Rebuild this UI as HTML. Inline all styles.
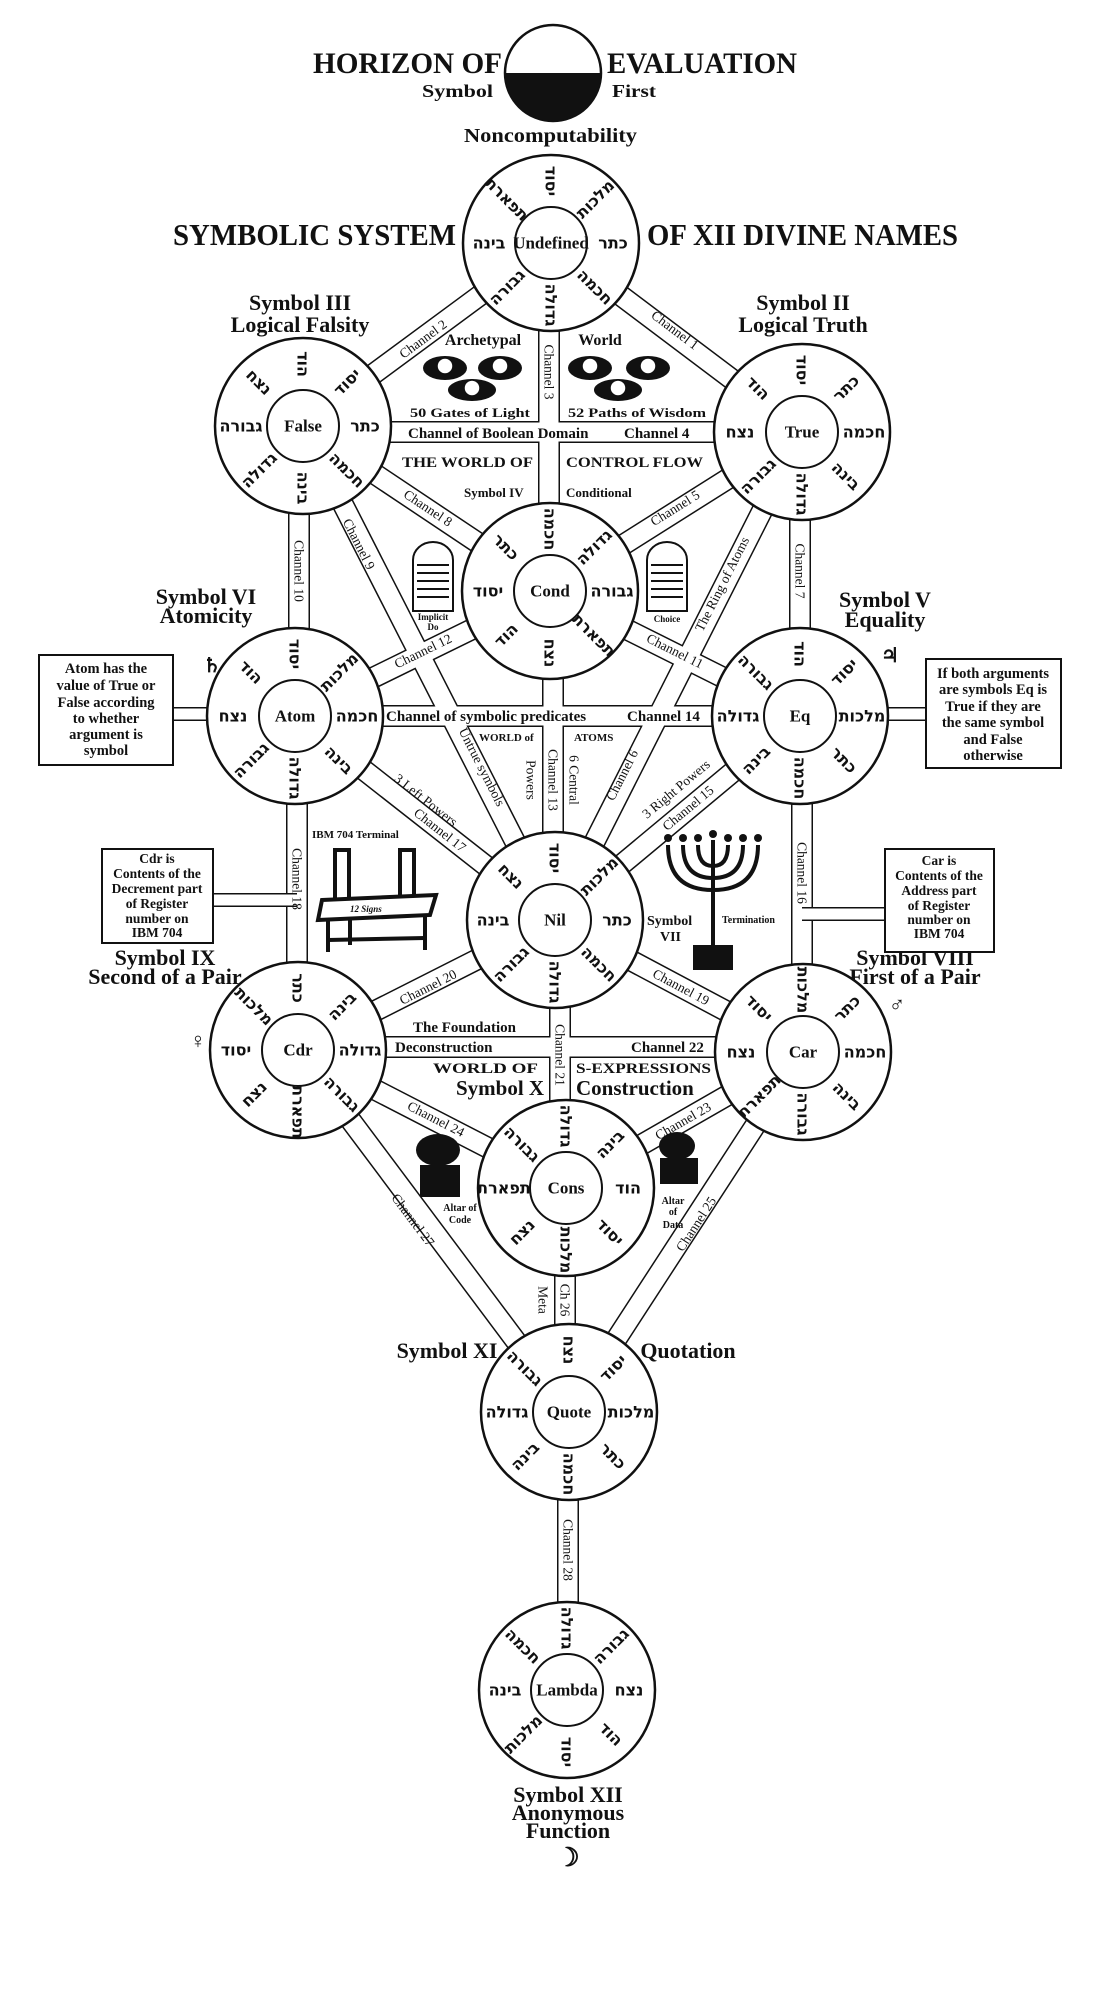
<!DOCTYPE html>
<html><head><meta charset="utf-8"><style>
html,body{margin:0;padding:0;background:#fff;}
svg{display:block;}
text{font-family:"Liberation Serif",serif;font-weight:bold;fill:#111;}
.h{font-family:"DejaVu Sans",sans-serif;font-size:16px;font-weight:bold;dominant-baseline:central;text-anchor:middle;}
.c{font-size:13.5px;text-anchor:middle;dominant-baseline:central;font-weight:normal;}
.b{font-size:14.5px;text-anchor:middle;}
.s{font-size:13.5px;text-anchor:middle;}
.l{font-size:22px;text-anchor:middle;}
.n{font-size:17px;text-anchor:middle;dominant-baseline:central;}
</style></head><body>
<svg width="1102" height="1992" viewBox="0 0 1102 1992" xmlns="http://www.w3.org/2000/svg">
<rect width="1102" height="1992" fill="#fff"/>
<defs>
<g id="bands" fill="none">
<line x1="551" y1="243" x2="802" y2="432"/>
<line x1="551" y1="243" x2="303" y2="426"/>
<line x1="549" y1="243" x2="549" y2="591"/>
<line x1="303" y1="432" x2="802" y2="432"/>
<line x1="802" y1="432" x2="550" y2="591"/>
<line x1="800" y1="432" x2="800" y2="716"/>
<line x1="303" y1="426" x2="550" y2="591"/>
<line x1="303" y1="426" x2="555" y2="920"/>
<line x1="802" y1="432" x2="555" y2="920"/>
<line x1="299" y1="426" x2="299" y2="716"/>
<line x1="550" y1="591" x2="800" y2="716"/>
<line x1="550" y1="591" x2="295" y2="716"/>
<line x1="553" y1="591" x2="553" y2="920"/>
<line x1="295" y1="716" x2="800" y2="716"/>
<line x1="800" y1="716" x2="555" y2="920"/>
<line x1="802" y1="716" x2="802" y2="1052"/>
<line x1="295" y1="716" x2="555" y2="920"/>
<line x1="297" y1="716" x2="297" y2="1050"/>
<line x1="555" y1="920" x2="803" y2="1052"/>
<line x1="555" y1="920" x2="298" y2="1050"/>
<line x1="560" y1="920" x2="560" y2="1188"/>
<line x1="298" y1="1047" x2="803" y2="1047"/>
<line x1="803" y1="1052" x2="566" y2="1188"/>
<line x1="298" y1="1050" x2="566" y2="1188"/>
<line x1="803" y1="1052" x2="569" y2="1412"/>
<line x1="298" y1="1050" x2="569" y2="1412"/>
<line x1="565" y1="1188" x2="565" y2="1412"/>
<line x1="568" y1="1412" x2="568" y2="1690"/>
</g>
<g id="conn" fill="none">
<line x1="173" y1="714" x2="295" y2="714"/>
<line x1="213" y1="900" x2="297" y2="900"/>
<line x1="800" y1="714" x2="926" y2="714"/>
<line x1="802" y1="914" x2="885" y2="914"/>
</g>
</defs>
<use href="#bands" stroke="#111" stroke-width="22"/>
<use href="#bands" stroke="#fff" stroke-width="19"/>
<use href="#conn" stroke="#111" stroke-width="14"/>
<use href="#conn" stroke="#fff" stroke-width="11"/>

<circle cx="553" cy="73" r="48" fill="#fff" stroke="#111" stroke-width="2.5"/>
<path d="M505,73 A48,48 0 0 0 601,73 Z" fill="#111"/>
<text x="313" y="73" font-size="30" textLength="189" lengthAdjust="spacingAndGlyphs">HORIZON OF</text>
<text x="607" y="73" font-size="30" textLength="190" lengthAdjust="spacingAndGlyphs">EVALUATION</text>
<text x="422" y="97" font-size="18" textLength="71" lengthAdjust="spacingAndGlyphs">Symbol</text>
<text x="612" y="97" font-size="18" textLength="44" lengthAdjust="spacingAndGlyphs">First</text>
<text x="464" y="142" font-size="20" textLength="173" lengthAdjust="spacingAndGlyphs">Noncomputability</text>
<text x="173" y="245" font-size="31" textLength="283" lengthAdjust="spacingAndGlyphs">SYMBOLIC SYSTEM</text>
<text x="647" y="245" font-size="31" textLength="311" lengthAdjust="spacingAndGlyphs">OF XII DIVINE NAMES</text>

<text class="l" x="300" y="310">Symbol III</text><text class="l" x="300" y="332">Logical Falsity</text>
<text class="l" x="803" y="310">Symbol II</text><text class="l" x="803" y="332">Logical Truth</text>
<text class="l" x="206" y="604">Symbol VI</text><text class="l" x="206" y="623">Atomicity</text>
<text class="l" x="885" y="607">Symbol V</text><text class="l" x="885" y="627">Equality</text>
<text class="l" x="165" y="965">Symbol IX</text><text class="l" x="165" y="984">Second of a Pair</text>
<text class="l" x="915" y="965">Symbol VIII</text><text class="l" x="915" y="984">First of a Pair</text>
<text class="l" x="447" y="1358">Symbol XI</text><text class="l" x="688" y="1358">Quotation</text>
<text class="l" x="568" y="1802">Symbol XII</text><text class="l" x="568" y="1820">Anonymous</text><text class="l" x="568" y="1838">Function</text>
<text x="568" y="1866" font-size="26" text-anchor="middle" font-family="DejaVu Sans">☽</text>
<text x="212" y="672" font-size="20" text-anchor="middle" font-family="DejaVu Sans">♄</text>
<text x="890" y="662" font-size="20" text-anchor="middle" font-family="DejaVu Sans">♃</text>
<text x="198" y="1048" font-size="22" text-anchor="middle" font-family="DejaVu Sans">♀</text>
<text x="897" y="1012" font-size="22" text-anchor="middle" font-family="DejaVu Sans">♂</text>

<rect x="39" y="655" width="134" height="110" fill="#fff" stroke="#111" stroke-width="2"/>
<text class="b" x="106" y="673">Atom has the</text><text class="b" x="106" y="690">value of True or</text><text class="b" x="106" y="707">False according</text><text class="b" x="106" y="723">to whether</text><text class="b" x="106" y="739">argument is</text><text class="b" x="106" y="755">symbol</text>
<rect x="102" y="849" width="111" height="94" fill="#fff" stroke="#111" stroke-width="2"/>
<text class="s" x="157" y="863">Cdr is</text><text class="s" x="157" y="878">Contents of the</text><text class="s" x="157" y="893">Decrement part</text><text class="s" x="157" y="908">of Register</text><text class="s" x="157" y="923">number on</text><text class="s" x="157" y="937">IBM 704</text>
<rect x="926" y="659" width="135" height="109" fill="#fff" stroke="#111" stroke-width="2"/>
<text class="b" x="993" y="678">If both arguments</text><text class="b" x="993" y="694">are symbols Eq is</text><text class="b" x="993" y="711">True if they are</text><text class="b" x="993" y="727">the same symbol</text><text class="b" x="993" y="744">and False</text><text class="b" x="993" y="760">otherwise</text>
<rect x="885" y="849" width="109" height="103" fill="#fff" stroke="#111" stroke-width="2"/>
<text class="s" x="939" y="865">Car is</text><text class="s" x="939" y="880">Contents of the</text><text class="s" x="939" y="895">Address part</text><text class="s" x="939" y="910">of Register</text><text class="s" x="939" y="924">number on</text><text class="s" x="939" y="938">IBM 704</text>

<text class="c" transform="translate(675,330) rotate(37)">Channel 1</text>
<text class="c" transform="translate(423,339) rotate(-36.4)">Channel 2</text>
<text class="c" transform="translate(549,372) rotate(90)">Channel 3</text>
<text class="c" transform="translate(675,508) rotate(-32)">Channel 5</text>
<text class="c" transform="translate(428,508) rotate(33.7)">Channel 8</text>
<text class="c" transform="translate(800,571) rotate(90)">Channel 7</text>
<text class="c" transform="translate(299,571) rotate(90)">Channel 10</text>
<text class="c" transform="translate(359,544) rotate(63)">Channel 9</text>
<text class="c" transform="translate(722,584) rotate(-63.2)">The Ring of Atoms</text>
<text class="c" transform="translate(482,767) rotate(63)">Untrue symbols</text>
<text class="c" transform="translate(622,775) rotate(-63.2)">Channel 6</text>
<text class="c" transform="translate(675,651) rotate(26.6)">Channel 11</text>
<text class="c" transform="translate(423,651) rotate(-26)">Channel 12</text>
<text class="c" transform="translate(553,780) rotate(90)">Channel 13</text>
<text class="c" transform="translate(531,780) rotate(90)">Powers</text>
<text class="c" transform="translate(574,780) rotate(90)">6 Central</text>
<text class="c" transform="translate(688,808) rotate(-39.8)">Channel 15</text>
<text class="c" transform="translate(676,789) rotate(-39.8)">3 Right Powers</text>
<text class="c" transform="translate(440,830) rotate(38.1)">Channel 17</text>
<text class="c" transform="translate(426,800) rotate(38.1)">3 Left Powers</text>
<text class="c" transform="translate(802,873) rotate(90)">Channel 16</text>
<text class="c" transform="translate(297,879) rotate(90)">Channel 18</text>
<text class="c" transform="translate(681,987) rotate(28)">Channel 19</text>
<text class="c" transform="translate(428,987) rotate(-26.8)">Channel 20</text>
<text class="c" transform="translate(560,1055) rotate(90)">Channel 21</text>
<text class="c" transform="translate(683,1121) rotate(-29.8)">Channel 23</text>
<text class="c" transform="translate(436,1119) rotate(27.2)">Channel 24</text>
<text class="c" transform="translate(696,1224) rotate(-57)">Channel 25</text>
<text class="c" transform="translate(413,1220) rotate(53.2)">Channel 27</text>
<text class="c" transform="translate(565,1300) rotate(90)">Ch 26</text>
<text class="c" transform="translate(543,1300) rotate(90)">Meta</text>
<text class="c" transform="translate(568,1550) rotate(90)">Channel 28</text>
<text x="408" y="438" font-size="15">Channel of Boolean Domain</text>
<text x="624" y="438" font-size="15">Channel 4</text>
<text x="386" y="721" font-size="15">Channel of symbolic predicates</text>
<text x="627" y="721" font-size="15">Channel 14</text>
<text x="395" y="1052" font-size="15">Deconstruction</text>
<text x="631" y="1052" font-size="15">Channel 22</text>

<text x="402" y="467" font-size="15" textLength="131" lengthAdjust="spacingAndGlyphs">THE WORLD OF</text>
<text x="566" y="467" font-size="15" textLength="137" lengthAdjust="spacingAndGlyphs">CONTROL FLOW</text>
<text x="464" y="497" font-size="13">Symbol IV</text>
<text x="566" y="497" font-size="13">Conditional</text>
<text x="483" y="345" font-size="16" text-anchor="middle">Archetypal</text>
<text x="600" y="345" font-size="16" text-anchor="middle">World</text>
<text x="410" y="417" font-size="13" textLength="120" lengthAdjust="spacingAndGlyphs">50 Gates of Light</text>
<text x="568" y="417" font-size="13" textLength="138" lengthAdjust="spacingAndGlyphs">52 Paths of Wisdom</text>
<text x="479" y="741" font-size="11">WORLD of</text>
<text x="574" y="741" font-size="11">ATOMS</text>
<text x="312" y="838" font-size="11">IBM 704 Terminal</text>
<text x="647" y="925" font-size="14">Symbol</text><text x="660" y="941" font-size="14">VII</text>
<text x="722" y="923" font-size="10">Termination</text>
<text x="413" y="1032" font-size="15">The Foundation</text>
<text x="433" y="1073" font-size="15" textLength="105" lengthAdjust="spacingAndGlyphs">WORLD OF</text>
<text x="576" y="1073" font-size="15" textLength="135" lengthAdjust="spacingAndGlyphs">S-EXPRESSIONS</text>
<text x="456" y="1095" font-size="21">Symbol X</text>
<text x="576" y="1095" font-size="21">Construction</text>
<text x="460" y="1211" font-size="10" text-anchor="middle">Altar of</text><text x="460" y="1223" font-size="10" text-anchor="middle">Code</text>
<text x="673" y="1204" font-size="10" text-anchor="middle">Altar</text><text x="673" y="1215" font-size="10" text-anchor="middle">of</text><text x="673" y="1228" font-size="10" text-anchor="middle">Data</text>
<text x="433" y="620" font-size="9" text-anchor="middle">Implicit</text><text x="433" y="630" font-size="9" text-anchor="middle">Do</text>
<text x="667" y="622" font-size="9" text-anchor="middle">Choice</text>

<g fill="#111">
<ellipse cx="445" cy="368" rx="22" ry="12"/><ellipse cx="500" cy="368" rx="22" ry="12"/><ellipse cx="472" cy="390" rx="24" ry="11"/>
<ellipse cx="590" cy="368" rx="22" ry="12"/><ellipse cx="648" cy="368" rx="22" ry="12"/><ellipse cx="618" cy="390" rx="24" ry="11"/>
</g>
<g fill="#fff" stroke="#111" stroke-width="1.5">
<circle cx="445" cy="366" r="8"/><circle cx="500" cy="366" r="8"/><circle cx="472" cy="388" r="8"/>
<circle cx="590" cy="366" r="8"/><circle cx="648" cy="366" r="8"/><circle cx="618" cy="388" r="8"/>
</g>
<g fill="#fff" stroke="#111" stroke-width="2">
<path d="M413,611 V560 A20,18 0 0 1 453,560 V611 Z"/>
<path d="M647,611 V560 A20,18 0 0 1 687,560 V611 Z"/>
</g>
<g stroke="#111" stroke-width="2">
<line x1="417" y1="565" x2="449" y2="565"/><line x1="417" y1="573" x2="449" y2="573"/><line x1="417" y1="581" x2="449" y2="581"/><line x1="417" y1="589" x2="449" y2="589"/><line x1="417" y1="597" x2="449" y2="597"/>
<line x1="651" y1="565" x2="683" y2="565"/><line x1="651" y1="573" x2="683" y2="573"/><line x1="651" y1="581" x2="683" y2="581"/><line x1="651" y1="589" x2="683" y2="589"/><line x1="651" y1="597" x2="683" y2="597"/>
</g>
<g stroke="#111" stroke-width="4" fill="none">
<rect x="335" y="850" width="14" height="55"/><rect x="400" y="850" width="14" height="55"/>
<path d="M322,900 L436,895 L430,915 L318,920 Z" fill="#fff"/>
<line x1="328" y1="920" x2="328" y2="952"/><line x1="425" y1="915" x2="425" y2="950"/>
<line x1="350" y1="920" x2="350" y2="945"/><line x1="328" y1="940" x2="425" y2="938"/>
</g>
<text x="350" y="912" font-size="9" font-style="italic">12 Signs</text>
<g stroke="#111" stroke-width="4" fill="none">
<line x1="713" y1="840" x2="713" y2="945"/>
<path d="M668,845 Q668,890 713,890 Q758,890 758,845"/>
<path d="M683,845 Q683,878 713,878 Q743,878 743,845"/>
<path d="M698,845 Q698,866 713,866 Q728,866 728,845"/>
</g>
<rect x="693" y="945" width="40" height="25" fill="#111"/>
<g fill="#111"><circle cx="668" cy="838" r="4"/><circle cx="683" cy="838" r="4"/><circle cx="698" cy="838" r="4"/><circle cx="713" cy="834" r="4"/><circle cx="728" cy="838" r="4"/><circle cx="743" cy="838" r="4"/><circle cx="758" cy="838" r="4"/></g>
<g fill="#111">
<ellipse cx="438" cy="1150" rx="22" ry="16"/><rect x="420" y="1165" width="40" height="32"/>
<ellipse cx="677" cy="1146" rx="18" ry="14"/><rect x="660" y="1158" width="38" height="26"/>
</g>

<g fill="#fff" stroke="#111">
<g stroke-width="2.5"><circle cx="551" cy="243" r="88"/><circle cx="303" cy="426" r="88"/><circle cx="802" cy="432" r="88"/><circle cx="550" cy="591" r="88"/><circle cx="295" cy="716" r="88"/><circle cx="800" cy="716" r="88"/><circle cx="555" cy="920" r="88"/><circle cx="298" cy="1050" r="88"/><circle cx="803" cy="1052" r="88"/><circle cx="566" cy="1188" r="88"/><circle cx="569" cy="1412" r="88"/><circle cx="567" cy="1690" r="88"/></g>
<g stroke-width="2"><circle cx="551" cy="243" r="36"/><circle cx="303" cy="426" r="36"/><circle cx="802" cy="432" r="36"/><circle cx="550" cy="591" r="36"/><circle cx="295" cy="716" r="36"/><circle cx="800" cy="716" r="36"/><circle cx="555" cy="920" r="36"/><circle cx="298" cy="1050" r="36"/><circle cx="803" cy="1052" r="36"/><circle cx="566" cy="1188" r="36"/><circle cx="569" cy="1412" r="36"/><circle cx="567" cy="1690" r="36"/></g>
</g>
<text class="n" x="551" y="243" font-size="12">Undefined</text>
<text class="n" x="303" y="426">False</text>
<text class="n" x="802" y="432">True</text>
<text class="n" x="550" y="591">Cond</text>
<text class="n" x="295" y="716">Atom</text>
<text class="n" x="800" y="716">Eq</text>
<text class="n" x="555" y="920">Nil</text>
<text class="n" x="298" y="1050">Cdr</text>
<text class="n" x="803" y="1052">Car</text>
<text class="n" x="566" y="1188">Cons</text>
<text class="n" x="569" y="1412">Quote</text>
<text class="n" x="567" y="1690" font-size="15">Lambda</text>

<g transform="translate(551,243)"><text class="h" transform="translate(62,0)">כתר</text><text class="h" transform="translate(44,44) rotate(45)">חכמה</text><text class="h" transform="translate(0,62) rotate(90)">גדולה</text><text class="h" transform="translate(-44,44) rotate(-45)">גבורה</text><text class="h" transform="translate(-62,0)">בינה</text><text class="h" transform="translate(-44,-44) rotate(45)">תפארת</text><text class="h" transform="translate(0,-62) rotate(90)">יסוד</text><text class="h" transform="translate(44,-44) rotate(-45)">מלכות</text></g>
<g transform="translate(303,426)"><text class="h" transform="translate(62,0)">כתר</text><text class="h" transform="translate(44,44) rotate(45)">חכמה</text><text class="h" transform="translate(0,62) rotate(90)">בינה</text><text class="h" transform="translate(-44,44) rotate(-45)">גדולה</text><text class="h" transform="translate(-62,0)">גבורה</text><text class="h" transform="translate(-44,-44) rotate(45)">נצח</text><text class="h" transform="translate(0,-62) rotate(90)">הוד</text><text class="h" transform="translate(44,-44) rotate(-45)">יסוד</text></g>
<g transform="translate(802,432)"><text class="h" transform="translate(62,0)">חכמה</text><text class="h" transform="translate(44,44) rotate(45)">בינה</text><text class="h" transform="translate(0,62) rotate(90)">גדולה</text><text class="h" transform="translate(-44,44) rotate(-45)">גבורה</text><text class="h" transform="translate(-62,0)">נצח</text><text class="h" transform="translate(-44,-44) rotate(45)">הוד</text><text class="h" transform="translate(0,-62) rotate(90)">יסוד</text><text class="h" transform="translate(44,-44) rotate(-45)">כתר</text></g>
<g transform="translate(550,591)"><text class="h" transform="translate(62,0)">גבורה</text><text class="h" transform="translate(44,44) rotate(45)">תפארת</text><text class="h" transform="translate(0,62) rotate(90)">נצח</text><text class="h" transform="translate(-44,44) rotate(-45)">הוד</text><text class="h" transform="translate(-62,0)">יסוד</text><text class="h" transform="translate(-44,-44) rotate(45)">כתר</text><text class="h" transform="translate(0,-62) rotate(90)">חכמה</text><text class="h" transform="translate(44,-44) rotate(-45)">גדולה</text></g>
<g transform="translate(295,716)"><text class="h" transform="translate(62,0)">חכמה</text><text class="h" transform="translate(44,44) rotate(45)">בינה</text><text class="h" transform="translate(0,62) rotate(90)">גדולה</text><text class="h" transform="translate(-44,44) rotate(-45)">גבורה</text><text class="h" transform="translate(-62,0)">נצח</text><text class="h" transform="translate(-44,-44) rotate(45)">הוד</text><text class="h" transform="translate(0,-62) rotate(90)">יסוד</text><text class="h" transform="translate(44,-44) rotate(-45)">מלכות</text></g>
<g transform="translate(800,716)"><text class="h" transform="translate(62,0)">מלכות</text><text class="h" transform="translate(44,44) rotate(45)">כתר</text><text class="h" transform="translate(0,62) rotate(90)">חכמה</text><text class="h" transform="translate(-44,44) rotate(-45)">בינה</text><text class="h" transform="translate(-62,0)">גדולה</text><text class="h" transform="translate(-44,-44) rotate(45)">גבורה</text><text class="h" transform="translate(0,-62) rotate(90)">הוד</text><text class="h" transform="translate(44,-44) rotate(-45)">יסוד</text></g>
<g transform="translate(555,920)"><text class="h" transform="translate(62,0)">כתר</text><text class="h" transform="translate(44,44) rotate(45)">חכמה</text><text class="h" transform="translate(0,62) rotate(90)">גדולה</text><text class="h" transform="translate(-44,44) rotate(-45)">גבורה</text><text class="h" transform="translate(-62,0)">בינה</text><text class="h" transform="translate(-44,-44) rotate(45)">נצח</text><text class="h" transform="translate(0,-62) rotate(90)">יסוד</text><text class="h" transform="translate(44,-44) rotate(-45)">מלכות</text></g>
<g transform="translate(298,1050)"><text class="h" transform="translate(62,0)">גדולה</text><text class="h" transform="translate(44,44) rotate(45)">גבורה</text><text class="h" transform="translate(0,62) rotate(90)">תפארת</text><text class="h" transform="translate(-44,44) rotate(-45)">נצח</text><text class="h" transform="translate(-62,0)">יסוד</text><text class="h" transform="translate(-44,-44) rotate(45)">מלכות</text><text class="h" transform="translate(0,-62) rotate(90)">כתר</text><text class="h" transform="translate(44,-44) rotate(-45)">בינה</text></g>
<g transform="translate(803,1052)"><text class="h" transform="translate(62,0)">חכמה</text><text class="h" transform="translate(44,44) rotate(45)">בינה</text><text class="h" transform="translate(0,62) rotate(90)">גבורה</text><text class="h" transform="translate(-44,44) rotate(-45)">תפארת</text><text class="h" transform="translate(-62,0)">נצח</text><text class="h" transform="translate(-44,-44) rotate(45)">יסוד</text><text class="h" transform="translate(0,-62) rotate(90)">מלכות</text><text class="h" transform="translate(44,-44) rotate(-45)">כתר</text></g>
<g transform="translate(566,1188)"><text class="h" transform="translate(62,0)">הוד</text><text class="h" transform="translate(44,44) rotate(45)">יסוד</text><text class="h" transform="translate(0,62) rotate(90)">מלכות</text><text class="h" transform="translate(-44,44) rotate(-45)">נצח</text><text class="h" transform="translate(-62,0)">תפארת</text><text class="h" transform="translate(-44,-44) rotate(45)">גבורה</text><text class="h" transform="translate(0,-62) rotate(90)">גדולה</text><text class="h" transform="translate(44,-44) rotate(-45)">בינה</text></g>
<g transform="translate(569,1412)"><text class="h" transform="translate(62,0)">מלכות</text><text class="h" transform="translate(44,44) rotate(45)">כתר</text><text class="h" transform="translate(0,62) rotate(90)">חכמה</text><text class="h" transform="translate(-44,44) rotate(-45)">בינה</text><text class="h" transform="translate(-62,0)">גדולה</text><text class="h" transform="translate(-44,-44) rotate(45)">גבורה</text><text class="h" transform="translate(0,-62) rotate(90)">נצח</text><text class="h" transform="translate(44,-44) rotate(-45)">יסוד</text></g>
<g transform="translate(567,1690)"><text class="h" transform="translate(62,0)">נצח</text><text class="h" transform="translate(44,44) rotate(45)">הוד</text><text class="h" transform="translate(0,62) rotate(90)">יסוד</text><text class="h" transform="translate(-44,44) rotate(-45)">מלכות</text><text class="h" transform="translate(-62,0)">בינה</text><text class="h" transform="translate(-44,-44) rotate(45)">חכמה</text><text class="h" transform="translate(0,-62) rotate(90)">גדולה</text><text class="h" transform="translate(44,-44) rotate(-45)">גבורה</text></g>
</svg>
</body></html>
